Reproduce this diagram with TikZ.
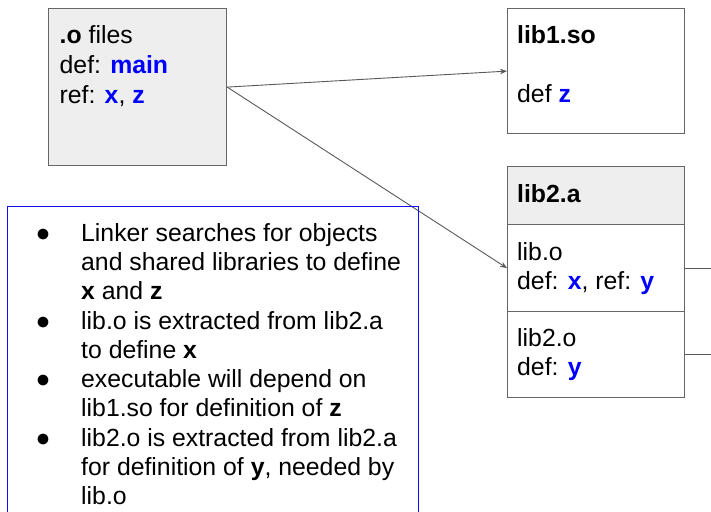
\documentclass[tikz,border=0pt]{standalone}
\usepackage{fontspec}
\setmainfont{Liberation Sans}
\usetikzlibrary{arrows.meta}

\definecolor{edgegray}{HTML}{666666}
\definecolor{linkgray}{HTML}{595959}
\definecolor{panelfill}{HTML}{EEEEEE}
\definecolor{symblue}{HTML}{0000FF}
\definecolor{noteblue}{HTML}{1010F0}

\newcommand\bodyfont{\fontsize{24.8}{29.2}\selectfont}
\newcommand\sym[1]{\textbf{\color{symblue}#1}}

\tikzset{
  box/.style={draw=edgegray, line width=1.2pt, inner sep=0pt, anchor=north west},
  label/.style={anchor=base west, inner sep=0pt, font=\bodyfont},
  bulletmark/.style={anchor=base, inner sep=0pt, font=\bodyfont},
  link/.style={draw=linkgray, line width=0.9pt, -{Stealth[length=7pt,width=5.5pt]}},
  tail/.style={draw=linkgray, line width=0.9pt},
}

\begin{document}
\begin{tikzpicture}[x=1pt,y=-1pt]
  \useasboundingbox (0,0) rectangle (711,511);
  \clip (0,0) rectangle (711,511);
  \coordinate (rightedge) at (711,0);

  % object files of the program
  \node[box, fill=panelfill, minimum width=178pt, minimum height=157pt] (ofiles) at (48,8) {};
  \node[label] (of1) at (59.5,44) {\textbf{.o} files};
  \node[label] (of2) at (59.5,73.5) {def: \sym{main}};
  \node[label] (of3) at (59.5,103) {ref: \sym{x}, \sym{z}};

  % shared library
  \node[box, minimum width=177pt, minimum height=125pt] (lib1) at (507,8) {};
  \node[label] (l1a) at (517,44) {\textbf{lib1.so}};
  \node[label] (l1b) at (517,102) {def \sym{z}};

  % static archive and its members
  \node[box, fill=panelfill, minimum width=177pt, minimum height=58pt] (lib2) at (507,166) {};
  \node[box, minimum width=177pt, minimum height=87pt] (libo) at (507,224) {};
  \node[box, minimum width=177pt, minimum height=86pt] (libtwoo) at (507,311) {};
  \node[label] (l2a) at (517,202) {\textbf{lib2.a}};
  \node[label] (l2b) at (517,260) {lib.o};
  \node[label] (l2c) at (517,289) {def: \sym{x}, ref: \sym{y}};
  \node[label] (l2d) at (517,346) {lib2.o};
  \node[label] (l2e) at (517,375) {def: \sym{y}};

  % member lines leaving the archive
  \coordinate (libo-out) at (libo.east -| rightedge);
  \coordinate (libtwoo-out) at (libtwoo.east -| rightedge);
  \draw[tail] (libo.east) -- (libo-out);
  \draw[tail] (libtwoo.east) -- (libtwoo-out);

  % symbol resolution
  \coordinate (src) at (ofiles.east);
  \draw[link] (src) -- (lib1.west);
  \draw[link] (src) -- (libo.west);

  % notes panel
  \node[draw=noteblue, line width=1.3pt, inner sep=0pt, anchor=north west,
        minimum width=411pt, minimum height=330pt] (notes) at (7,206) {};

  \node[bulletmark] (b1) at (43,241) {●};
  \node[label] (t1) at (81,241) {Linker searches for objects};
  \node[label] (t2) at (81,270.5) {and shared libraries to define};
  \node[label] (t3) at (81,299.5) {\textbf{x} and \textbf{z}};
  \node[bulletmark] (b2) at (43,329) {●};
  \node[label] (t4) at (81,329) {lib.o is extracted from lib2.a};
  \node[label] (t5) at (81,358) {to define \textbf{x}};
  \node[bulletmark] (b3) at (43,387.5) {●};
  \node[label] (t6) at (81,387.5) {executable will depend on};
  \node[label] (t7) at (81,416.5) {lib1.so for definition of \textbf{z}};
  \node[bulletmark] (b4) at (43,446) {●};
  \node[label] (t8) at (81,446) {lib2.o is extracted from lib2.a};
  \node[label] (t9) at (81,475) {for definition of \textbf{y}, needed by};
  \node[label] (t10) at (81,504) {lib.o};
\end{tikzpicture}
\end{document}
